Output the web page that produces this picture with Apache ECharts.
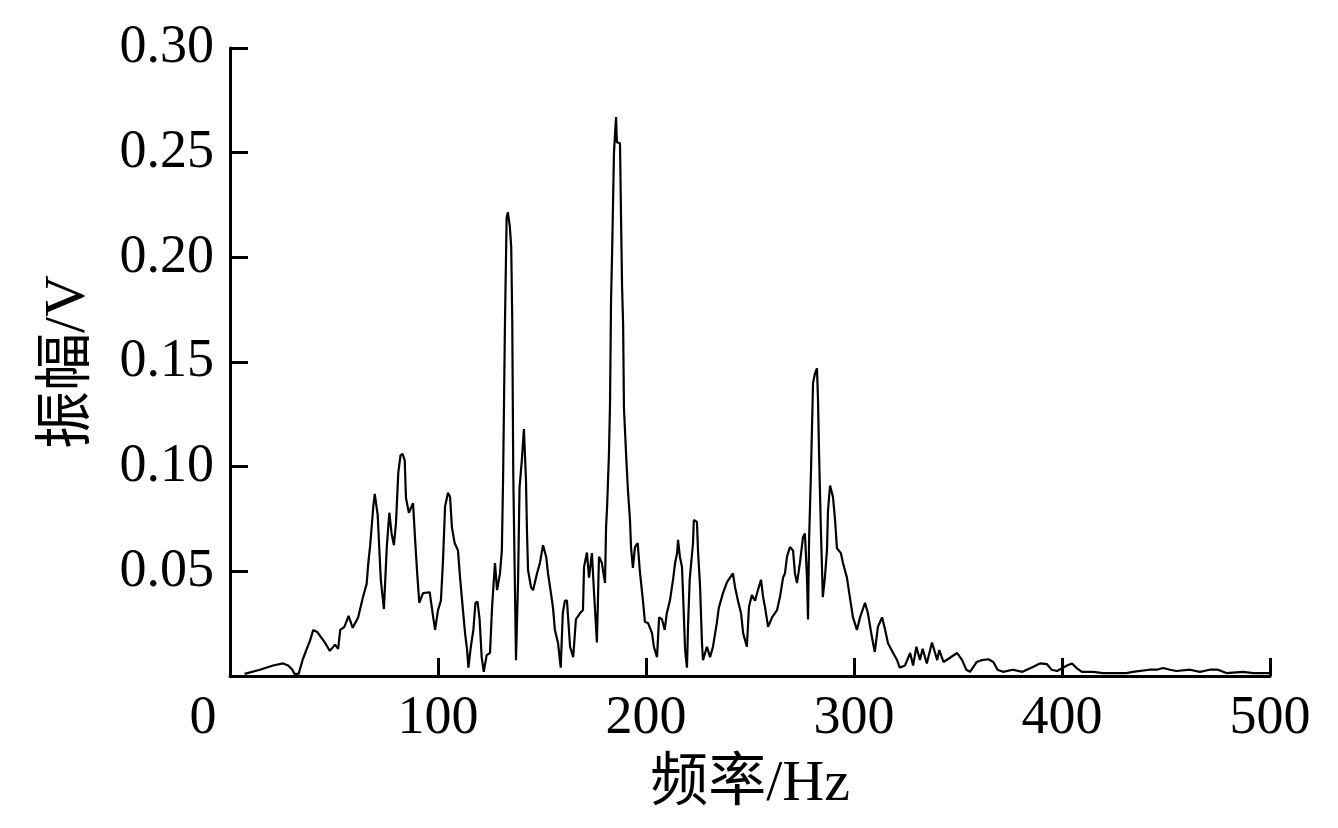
<!DOCTYPE html>
<html>
<head>
<meta charset="utf-8">
<script src="https://cdn.jsdelivr.net/npm/echarts@6/dist/echarts.min.js"></script>
<style>html,body{margin:0;padding:0;background:#fff;}#c{width:1338px;height:828px;}</style>
</head>
<body>
<div id="c"></div>
<script>
const freq = [7,14.4,20.7,25.5,28,30,31,33,35,38.5,40,42,45.6,48,50.5,52,53,55,57,59,61.6,64,65.7,66.5,67.4,68.9,69.6,71,72.5,74,75.4,76.6,77.7,78.8,79.8,80.9,82,83,84,84.6,86,88,89,90,91,92.8,96,97.7,98.6,100,101.4,102.4,103.4,104.8,105.8,106.7,108,109.6,110.6,112,113,114,114.6,115.8,117,118,119,120,121,122,123.4,125,126,127.4,128.4,129.8,130.7,131.3,132.2,133,133.6,134.5,135.2,135.7,136.2,137.5,138.5,139.2,140.3,141.3,142.3,142.8,143.3,144.7,145.7,147.6,149,150.5,152,152.9,154.3,155.3,156.2,157.7,159,160,161,162,163.5,165,166.3,168.3,169.7,170.2,171.6,172.6,174,175,176.4,177.4,178.8,180.3,180.8,181.3,182.2,182.7,183.2,183.7,184.6,185.6,186,187.5,188,188.5,189,189.4,190.4,191.3,192.3,192.8,193.7,194.7,196,197,198.6,199.5,201,202.9,203.8,205.3,206.3,207.7,209,210,211.5,213,214,215,215.4,216.3,217.3,217.8,218.8,219.7,220.2,221,222.6,223,224.5,225,226,226.9,227.4,229.3,230.8,232.2,234,235,237,239,240.4,241.8,242.8,244.2,245.7,246.7,248.5,249.5,250.9,252.4,253.8,255.3,256.3,257.2,258.7,260.6,263,264.4,265.9,266.8,267.8,269.2,270.7,271.6,272.6,274,275.5,276.4,277.4,277.9,278.4,279.3,280.3,281.3,282.2,282.7,283.2,284,285,286,287,287.5,288.5,289.9,290.9,291.8,293.7,294.7,296.6,298,299.5,301.4,302.9,305.3,306.7,308.6,310,311.5,313.5,315,316.3,318.8,320.7,322,324.5,327,328.4,330,331.7,333,335,337.5,338,340,341,343,346,349.5,352,354,355.8,359,361.5,364.6,367,369,371.6,376.4,381,386,389.4,392.7,395,397.6,402.4,404.8,407,409.6,415,419.7,431,434,442,445.5,448.6,451.9,455,461.5,466.3,471,475,479,487,492,496.6,500];
const amp = [0.001,0.003,0.005,0.006,0.005,0.003,0.001,0.001,0.008,0.017,0.022,0.021,0.016,0.012,0.015,0.013,0.022,0.0235,0.0287,0.023,0.028,0.038,0.044,0.054,0.0625,0.081,0.087,0.077,0.046,0.032,0.062,0.078,0.068,0.0625,0.073,0.097,0.1055,0.106,0.103,0.085,0.078,0.0825,0.065,0.049,0.035,0.0396,0.040,0.028,0.022,0.0315,0.036,0.055,0.081,0.0875,0.0855,0.071,0.0635,0.060,0.047,0.0315,0.0205,0.0124,0.004,0.014,0.022,0.035,0.0355,0.027,0.009,0.002,0.010,0.011,0.033,0.054,0.041,0.049,0.060,0.095,0.169,0.219,0.2215,0.215,0.205,0.17,0.095,0.0075,0.046,0.09,0.103,0.118,0.0935,0.068,0.0505,0.0425,0.041,0.049,0.054,0.0625,0.057,0.049,0.0396,0.0325,0.022,0.0158,0.004,0.030,0.036,0.036,0.014,0.009,0.027,0.030,0.0315,0.052,0.059,0.047,0.0587,0.040,0.016,0.057,0.054,0.0444,0.071,0.081,0.1065,0.13,0.18,0.202,0.250,0.267,0.255,0.2545,0.219,0.186,0.168,0.128,0.1065,0.089,0.0745,0.0616,0.0516,0.0616,0.0635,0.0506,0.0353,0.0258,0.0253,0.0205,0.014,0.009,0.028,0.027,0.022,0.030,0.036,0.046,0.054,0.059,0.065,0.057,0.052,0.0396,0.0124,0.004,0.0235,0.046,0.0635,0.0745,0.0736,0.060,0.0425,0.0158,0.0076,0.014,0.009,0.014,0.025,0.0325,0.0396,0.045,0.047,0.049,0.0425,0.036,0.030,0.0205,0.014,0.033,0.0387,0.036,0.041,0.046,0.0377,0.033,0.0235,0.028,0.0315,0.0377,0.047,0.049,0.057,0.0616,0.060,0.049,0.0444,0.054,0.0664,0.068,0.047,0.027,0.065,0.097,0.140,0.1447,0.147,0.132,0.1065,0.073,0.0377,0.047,0.060,0.079,0.091,0.0855,0.0745,0.061,0.0587,0.054,0.047,0.0377,0.028,0.022,0.028,0.035,0.030,0.0186,0.0115,0.0235,0.028,0.022,0.0158,0.011,0.0076,0.004,0.005,0.011,0.005,0.014,0.0076,0.013,0.006,0.016,0.0158,0.0076,0.0124,0.0067,0.0086,0.011,0.0076,0.003,0.002,0.0067,0.0076,0.008,0.0067,0.003,0.002,0.003,0.002,0.0043,0.006,0.0057,0.003,0.0024,0.005,0.006,0.0038,0.002,0.002,0.0014,0.0014,0.002,0.003,0.003,0.0038,0.003,0.0024,0.003,0.002,0.003,0.003,0.0014,0.002,0.0014,0.0014,0.0014];
const xTicks = [0,100,200,300,400,500];
const yTicks = [0.05,0.10,0.15,0.20,0.25,0.30];
const xTitle = '频率/Hz';
const yTitle = '振幅/V';

const FONT = "'Liberation Serif','Noto Sans CJK SC',serif";
const chart = echarts.init(document.getElementById('c'), null, {renderer:'canvas'});
const axisCommon = {
  axisLine:{show:true,onZero:false,lineStyle:{color:'#000',width:3}},
  axisTick:{show:true,inside:true,length:18,lineStyle:{color:'#000',width:3}},
  splitLine:{show:false},
  nameTextStyle:{fontFamily:FONT,fontSize:58,color:'#000'}
};
chart.setOption({
  animation:false,
  backgroundColor:'#fff',
  grid:{left:230,right:68,top:48,bottom:152,containLabel:false},
  xAxis:Object.assign({}, axisCommon, {
    type:'value',min:0,max:500,interval:100,
    name:xTitle,nameLocation:'middle',nameGap:80,
    axisLabel:{fontFamily:FONT,fontSize:54,color:'#000',margin:16,
      formatter:function(v){ return v===0 ? '{z|0}' : String(v); },
      rich:{z:{fontFamily:FONT,fontSize:54,color:'#000',padding:[0,54,0,0]}}}
  }),
  yAxis:Object.assign({}, axisCommon, {
    type:'value',min:0,max:0.30,interval:0.05,
    name:yTitle,nameLocation:'middle',nameGap:132,nameRotate:90,
    axisLabel:{fontFamily:FONT,fontSize:54,color:'#000',margin:16,
      formatter:function(v){ return v===0 ? '' : v.toFixed(2); }}
  }),
  series:[{
    type:'line',
    data:freq.map((f,i)=>[f,amp[i]]),
    showSymbol:false,
    lineStyle:{color:'#000',width:2.2},
    z:1
  }]
});
</script>
</body>
</html>
